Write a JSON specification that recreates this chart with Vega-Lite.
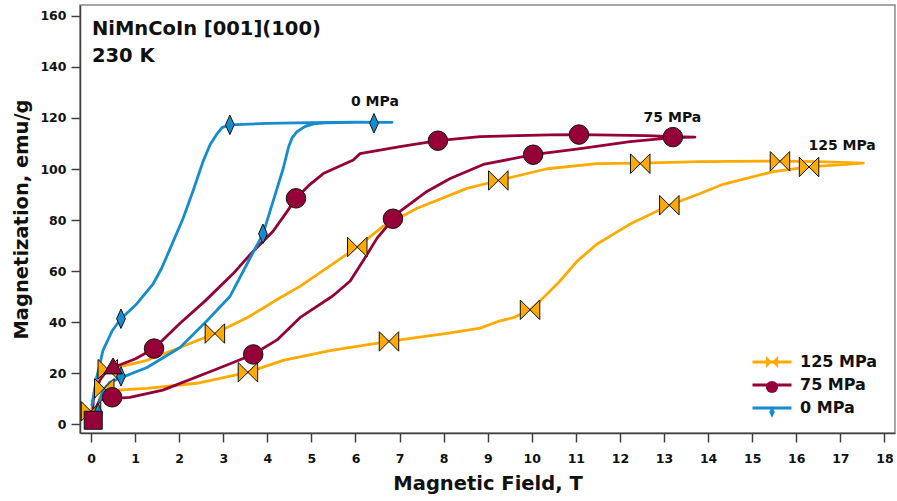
{
  "$schema": "https://vega.github.io/schema/vega-lite/v6.json",
  "width": 815,
  "height": 428,
  "autosize": {"type": "none"},
  "padding": {"left": 80, "top": 5, "right": 2, "bottom": 68},
  "background": "white",
  "config": {
    "font": "DejaVu Sans",
    "view": {"stroke": "#8a8a8a", "strokeWidth": 1.5},
    "axis": {
      "labelFont": "DejaVu Sans", "labelFontWeight": "bold", "labelFontSize": 12.5, "labelColor": "#111111",
      "titleFont": "DejaVu Sans", "titleFontWeight": "bold", "titleFontSize": 19.5, "titleColor": "#111111",
      "domainColor": "#404040", "domainWidth": 1.5, "tickColor": "#404040", "tickWidth": 1.5, "grid": false
    },
    "legend": {"labelFont": "DejaVu Sans", "labelFontWeight": "bold", "labelFontSize": 16, "labelColor": "#111111"}
  },
  "datasets": {
    "curves": [
      {"s": "125", "i": 1, "x": 0.0, "y": 3},
      {"s": "125", "i": 2, "x": 0.05, "y": 10},
      {"s": "125", "i": 3, "x": 0.13, "y": 18.3},
      {"s": "125", "i": 4, "x": 0.27, "y": 21},
      {"s": "125", "i": 5, "x": 0.5, "y": 21.8},
      {"s": "125", "i": 6, "x": 1.27, "y": 25},
      {"s": "125", "i": 7, "x": 2.02, "y": 30},
      {"s": "125", "i": 8, "x": 2.81, "y": 35.5},
      {"s": "125", "i": 9, "x": 3.54, "y": 41.7},
      {"s": "125", "i": 10, "x": 4.29, "y": 49.5},
      {"s": "125", "i": 11, "x": 4.74, "y": 54},
      {"s": "125", "i": 12, "x": 5.42, "y": 62},
      {"s": "125", "i": 13, "x": 6.04, "y": 69.4},
      {"s": "125", "i": 14, "x": 6.63, "y": 77.6},
      {"s": "125", "i": 15, "x": 7.4, "y": 84.6},
      {"s": "125", "i": 16, "x": 8.53, "y": 92.4},
      {"s": "125", "i": 17, "x": 9.24, "y": 95.5},
      {"s": "125", "i": 18, "x": 10.35, "y": 100.1},
      {"s": "125", "i": 19, "x": 11.48, "y": 102.1},
      {"s": "125", "i": 20, "x": 12.46, "y": 102.3},
      {"s": "125", "i": 21, "x": 13.82, "y": 102.9},
      {"s": "125", "i": 22, "x": 15.63, "y": 103.1},
      {"s": "125", "i": 23, "x": 16.5, "y": 102.9},
      {"s": "125", "i": 24, "x": 17.52, "y": 102.3},
      {"s": "125", "i": 25, "x": 16.29, "y": 100.8},
      {"s": "125", "i": 26, "x": 15.48, "y": 99},
      {"s": "125", "i": 27, "x": 14.34, "y": 94},
      {"s": "125", "i": 28, "x": 13.82, "y": 90.4},
      {"s": "125", "i": 29, "x": 13.12, "y": 85.8},
      {"s": "125", "i": 30, "x": 12.23, "y": 78.4},
      {"s": "125", "i": 31, "x": 11.48, "y": 70.6},
      {"s": "125", "i": 32, "x": 11.03, "y": 63.9},
      {"s": "125", "i": 33, "x": 10.64, "y": 56.1},
      {"s": "125", "i": 34, "x": 10.19, "y": 48.3},
      {"s": "125", "i": 35, "x": 9.96, "y": 44.8},
      {"s": "125", "i": 36, "x": 9.58, "y": 41.7},
      {"s": "125", "i": 37, "x": 9.28, "y": 40.5},
      {"s": "125", "i": 38, "x": 8.83, "y": 37.6},
      {"s": "125", "i": 39, "x": 8.15, "y": 35.8},
      {"s": "125", "i": 40, "x": 6.76, "y": 32.4},
      {"s": "125", "i": 41, "x": 5.42, "y": 28.8},
      {"s": "125", "i": 42, "x": 4.36, "y": 25},
      {"s": "125", "i": 43, "x": 3.56, "y": 20.3},
      {"s": "125", "i": 44, "x": 2.4, "y": 16},
      {"s": "125", "i": 45, "x": 1.27, "y": 14},
      {"s": "125", "i": 46, "x": 0.59, "y": 13.3},
      {"s": "125", "i": 47, "x": 0.3, "y": 13.5},
      {"s": "125", "i": 48, "x": 0.2, "y": 10.5},
      {"s": "125", "i": 49, "x": 0.13, "y": 5.5},

      {"s": "75", "i": 1, "x": 0.04, "y": 0.5},
      {"s": "75", "i": 2, "x": 0.05, "y": 9.4},
      {"s": "75", "i": 3, "x": 0.2, "y": 17.2},
      {"s": "75", "i": 4, "x": 0.36, "y": 21},
      {"s": "75", "i": 5, "x": 0.5, "y": 22.2},
      {"s": "75", "i": 6, "x": 1.0, "y": 25.5},
      {"s": "75", "i": 7, "x": 1.43, "y": 29.6},
      {"s": "75", "i": 8, "x": 2.02, "y": 39.5},
      {"s": "75", "i": 9, "x": 2.59, "y": 48.3},
      {"s": "75", "i": 10, "x": 3.22, "y": 58.9},
      {"s": "75", "i": 11, "x": 3.68, "y": 67.8},
      {"s": "75", "i": 12, "x": 4.13, "y": 75.6},
      {"s": "75", "i": 13, "x": 4.45, "y": 83.4},
      {"s": "75", "i": 14, "x": 4.65, "y": 88.5},
      {"s": "75", "i": 15, "x": 4.97, "y": 94},
      {"s": "75", "i": 16, "x": 5.27, "y": 98.2},
      {"s": "75", "i": 17, "x": 5.95, "y": 103.5},
      {"s": "75", "i": 18, "x": 6.1, "y": 106},
      {"s": "75", "i": 19, "x": 7.01, "y": 108.8},
      {"s": "75", "i": 20, "x": 7.87, "y": 111.1},
      {"s": "75", "i": 21, "x": 8.83, "y": 112.7},
      {"s": "75", "i": 22, "x": 10.4, "y": 113.4},
      {"s": "75", "i": 23, "x": 11.07, "y": 113.5},
      {"s": "75", "i": 24, "x": 12.62, "y": 113.1},
      {"s": "75", "i": 25, "x": 13.2, "y": 112.7},
      {"s": "75", "i": 26, "x": 13.7, "y": 112.5},
      {"s": "75", "i": 27, "x": 13.2, "y": 112.3},
      {"s": "75", "i": 28, "x": 12.23, "y": 110.7},
      {"s": "75", "i": 29, "x": 11.1, "y": 108},
      {"s": "75", "i": 30, "x": 10.03, "y": 105.6},
      {"s": "75", "i": 31, "x": 8.9, "y": 101.8},
      {"s": "75", "i": 32, "x": 8.15, "y": 96.3},
      {"s": "75", "i": 33, "x": 7.62, "y": 91.2},
      {"s": "75", "i": 34, "x": 7.01, "y": 83.4},
      {"s": "75", "i": 35, "x": 6.85, "y": 80.3},
      {"s": "75", "i": 36, "x": 6.49, "y": 72.9},
      {"s": "75", "i": 37, "x": 6.17, "y": 63.9},
      {"s": "75", "i": 38, "x": 5.88, "y": 56.1},
      {"s": "75", "i": 39, "x": 5.49, "y": 50.3},
      {"s": "75", "i": 40, "x": 4.97, "y": 44.4},
      {"s": "75", "i": 41, "x": 4.74, "y": 41.7},
      {"s": "75", "i": 42, "x": 4.22, "y": 33},
      {"s": "75", "i": 43, "x": 3.68, "y": 27.3},
      {"s": "75", "i": 44, "x": 2.77, "y": 21},
      {"s": "75", "i": 45, "x": 1.63, "y": 13.3},
      {"s": "75", "i": 46, "x": 0.88, "y": 10.5},
      {"s": "75", "i": 47, "x": 0.48, "y": 10},
      {"s": "75", "i": 48, "x": 0.2, "y": 9.5},
      {"s": "75", "i": 49, "x": 0.1, "y": 6},
      {"s": "75", "i": 50, "x": 0.05, "y": 1},

      {"s": "0", "i": 1, "x": 0.02, "y": 7.4},
      {"s": "0", "i": 2, "x": 0.13, "y": 18.3},
      {"s": "0", "i": 3, "x": 0.27, "y": 28.8},
      {"s": "0", "i": 4, "x": 0.48, "y": 36.6},
      {"s": "0", "i": 5, "x": 0.68, "y": 41.3},
      {"s": "0", "i": 6, "x": 1.04, "y": 47.2},
      {"s": "0", "i": 7, "x": 1.41, "y": 55},
      {"s": "0", "i": 8, "x": 1.6, "y": 61},
      {"s": "0", "i": 9, "x": 1.77, "y": 67.8},
      {"s": "0", "i": 10, "x": 2.09, "y": 80.7},
      {"s": "0", "i": 11, "x": 2.31, "y": 91.2},
      {"s": "0", "i": 12, "x": 2.54, "y": 102.9},
      {"s": "0", "i": 13, "x": 2.7, "y": 109.5},
      {"s": "0", "i": 14, "x": 2.86, "y": 113.8},
      {"s": "0", "i": 15, "x": 2.97, "y": 116.2},
      {"s": "0", "i": 16, "x": 3.15, "y": 117.3},
      {"s": "0", "i": 17, "x": 4.0, "y": 117.9},
      {"s": "0", "i": 18, "x": 5.0, "y": 118.2},
      {"s": "0", "i": 19, "x": 6.0, "y": 118.4},
      {"s": "0", "i": 20, "x": 6.83, "y": 118.3},
      {"s": "0", "i": 21, "x": 6.0, "y": 118.3},
      {"s": "0", "i": 22, "x": 5.3, "y": 118.1},
      {"s": "0", "i": 23, "x": 5.05, "y": 117.7},
      {"s": "0", "i": 24, "x": 4.85, "y": 116.6},
      {"s": "0", "i": 25, "x": 4.67, "y": 114.6},
      {"s": "0", "i": 26, "x": 4.56, "y": 112.2},
      {"s": "0", "i": 27, "x": 4.48, "y": 108.5},
      {"s": "0", "i": 28, "x": 4.36, "y": 100.2},
      {"s": "0", "i": 29, "x": 4.13, "y": 87.3},
      {"s": "0", "i": 30, "x": 3.9, "y": 74.5},
      {"s": "0", "i": 31, "x": 3.61, "y": 65.1},
      {"s": "0", "i": 32, "x": 3.15, "y": 50},
      {"s": "0", "i": 33, "x": 2.63, "y": 40.5},
      {"s": "0", "i": 34, "x": 2.02, "y": 30},
      {"s": "0", "i": 35, "x": 1.27, "y": 22.2},
      {"s": "0", "i": 36, "x": 0.73, "y": 18.5},
      {"s": "0", "i": 37, "x": 0.43, "y": 16.4},
      {"s": "0", "i": 38, "x": 0.27, "y": 13.3},
      {"s": "0", "i": 39, "x": 0.16, "y": 6.6},
      {"s": "0", "i": 40, "x": 0.13, "y": 0.4}
    ],
    "markers": [
      {"s": "125 MPa", "x": 0.0, "y": 5},
      {"s": "125 MPa", "x": 0.38, "y": 21.5},
      {"s": "125 MPa", "x": 0.3, "y": 14},
      {"s": "125 MPa", "x": 2.81, "y": 35.5},
      {"s": "125 MPa", "x": 6.04, "y": 69.4},
      {"s": "125 MPa", "x": 9.24, "y": 95.5},
      {"s": "125 MPa", "x": 12.46, "y": 102.1},
      {"s": "125 MPa", "x": 15.63, "y": 103},
      {"s": "125 MPa", "x": 16.29, "y": 100.8},
      {"s": "125 MPa", "x": 13.12, "y": 85.8},
      {"s": "125 MPa", "x": 9.96, "y": 44.8},
      {"s": "125 MPa", "x": 6.76, "y": 32.4},
      {"s": "125 MPa", "x": 3.56, "y": 20.3},
      {"s": "75 MPa", "x": 1.43, "y": 29.6},
      {"s": "75 MPa", "x": 4.65, "y": 88.5},
      {"s": "75 MPa", "x": 7.87, "y": 111.1},
      {"s": "75 MPa", "x": 11.07, "y": 113.5},
      {"s": "75 MPa", "x": 13.2, "y": 112.5},
      {"s": "75 MPa", "x": 10.03, "y": 105.6},
      {"s": "75 MPa", "x": 6.85, "y": 80.5},
      {"s": "75 MPa", "x": 3.68, "y": 27.3},
      {"s": "75 MPa", "x": 0.48, "y": 10.5},
      {"s": "0 MPa", "x": 0.16, "y": 4.3},
      {"s": "0 MPa", "x": 0.68, "y": 41.3},
      {"s": "0 MPa", "x": 3.15, "y": 117.3},
      {"s": "0 MPa", "x": 6.42, "y": 117.9},
      {"s": "0 MPa", "x": 3.9, "y": 74.6},
      {"s": "0 MPa", "x": 0.68, "y": 18.7}
    ],
    "extra": [
      {"s": "75 MPa", "m": "square", "x": 0.05, "y": 1.5},
      {"s": "75 MPa", "m": "triangle", "x": 0.5, "y": 22.8}
    ],
    "heading": [
      {"t": "NiMnCoIn [001](100)", "x": 0.02, "y": 152.4},
      {"t": "230 K", "x": 0.02, "y": 141.9}
    ],
    "tags": [
      {"t": "0 MPa", "x": 6.44, "y": 124.8},
      {"t": "75 MPa", "x": 13.19, "y": 118.5},
      {"t": "125 MPa", "x": 17.04, "y": 107.6}
    ]
  },
  "layer": [
    {
      "data": {"name": "curves"},
      "mark": {"type": "line", "strokeWidth": 2.8, "strokeJoin": "round", "strokeCap": "round"},
      "encoding": {
        "x": {
          "field": "x", "type": "quantitative",
          "scale": {"domain": [-0.25, 18.24], "nice": false, "zero": false},
          "axis": {
            "title": "Magnetic Field, T",
            "values": [0, 1, 2, 3, 4, 5, 6, 7, 8, 9, 10, 11, 12, 13, 14, 15, 16, 17, 18],
            "tickSize": 9, "labelPadding": 10, "titlePadding": 10, "labelFlush": false, "labelOverlap": false
          }
        },
        "y": {
          "field": "y", "type": "quantitative",
          "scale": {"domain": [-3.5, 164.3], "nice": false, "zero": false},
          "axis": {
            "title": "Magnetization, emu/g",
            "values": [0, 10, 20, 30, 40, 50, 60, 70, 80, 90, 100, 110, 120, 130, 140, 150, 160],
            "labelExpr": "datum.value % 20 === 0 ? datum.label : ''",
            "tickSize": {"condition": {"test": "datum.value % 20 === 0", "value": 9}, "value": 5},
            "labelPadding": 5, "titlePadding": 8, "labelFlush": false, "labelOverlap": false
          }
        },
        "stroke": {
          "field": "s", "type": "nominal",
          "scale": {"domain": ["125", "75", "0"], "range": ["#ffaa00", "#960038", "#168ccf"]},
          "legend": {
            "title": null, "orient": "none", "legendX": 684, "legendY": 349, "padding": 0,
            "symbolType": "M-3,0L3,0", "symbolSize": 169, "symbolStrokeWidth": 3,
            "labelExpr": "datum.label + ' MPa'",
            "labelOffset": 20, "rowPadding": 7
          }
        },
        "order": {"field": "i", "type": "quantitative"}
      }
    },
    {
      "data": {"name": "markers"},
      "mark": {"type": "point", "filled": true, "opacity": 1, "size": 380, "stroke": "#111111", "strokeWidth": 1},
      "encoding": {
        "x": {"field": "x", "type": "quantitative"},
        "y": {"field": "y", "type": "quantitative"},
        "fill": {
          "field": "s", "type": "nominal",
          "scale": {"domain": ["125 MPa", "75 MPa", "0 MPa"], "range": ["#ffaa00", "#960038", "#168ccf"]},
          "legend": {
            "title": null, "orient": "none", "legendX": 684, "legendY": 349, "padding": 0,
            "symbolSize": 150, "symbolStrokeColor": "#111111", "symbolStrokeWidth": 1, "symbolOpacity": 1,
            "labelExpr": "''", "labelOpacity": 0, "rowPadding": 7
          }
        },
        "shape": {
          "field": "s", "type": "nominal",
          "scale": {"domain": ["125 MPa", "75 MPa", "0 MPa"], "range": ["M-1,-1L1,1L1,-1L-1,1Z", "circle", "M0,-1L0.45,0L0,1L-0.45,0Z"]},
          "legend": {
            "title": null, "orient": "none", "legendX": 684, "legendY": 349, "padding": 0,
            "symbolSize": 150, "symbolStrokeColor": "#111111", "symbolStrokeWidth": 1, "symbolOpacity": 1,
            "labelExpr": "''", "labelOpacity": 0, "rowPadding": 7
          }
        }
      }
    },
    {
      "data": {"name": "extra"},
      "transform": [{"filter": "datum.m === 'square'"}],
      "mark": {"type": "point", "shape": "square", "filled": true, "opacity": 1, "size": 324, "fill": "#960038", "stroke": "#111111", "strokeWidth": 1},
      "encoding": {
        "x": {"field": "x", "type": "quantitative"},
        "y": {"field": "y", "type": "quantitative"}
      }
    },
    {
      "data": {"name": "extra"},
      "transform": [{"filter": "datum.m === 'triangle'"}],
      "mark": {"type": "point", "shape": "triangle-up", "filled": true, "opacity": 1, "size": 340, "fill": "#960038", "stroke": "#111111", "strokeWidth": 1},
      "encoding": {
        "x": {"field": "x", "type": "quantitative"},
        "y": {"field": "y", "type": "quantitative"}
      }
    },
    {
      "data": {"name": "heading"},
      "mark": {"type": "text", "align": "left", "baseline": "alphabetic", "font": "DejaVu Sans", "fontWeight": "bold", "fontSize": 19.5, "color": "#111111"},
      "encoding": {
        "x": {"field": "x", "type": "quantitative"},
        "y": {"field": "y", "type": "quantitative"},
        "text": {"field": "t"}
      }
    },
    {
      "data": {"name": "tags"},
      "mark": {"type": "text", "align": "center", "baseline": "alphabetic", "font": "DejaVu Sans", "fontWeight": "bold", "fontSize": 14, "color": "#111111"},
      "encoding": {
        "x": {"field": "x", "type": "quantitative"},
        "y": {"field": "y", "type": "quantitative"},
        "text": {"field": "t"}
      }
    }
  ]
}
